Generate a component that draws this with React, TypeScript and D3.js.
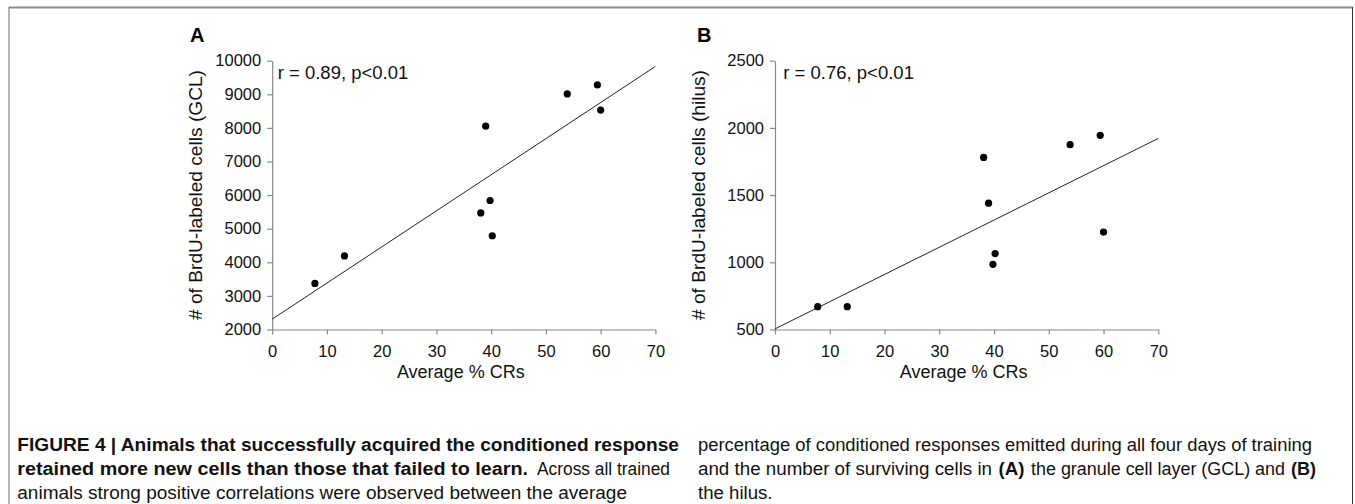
import React, { useEffect, useRef } from "react";
import * as d3 from "d3";

// ---- Data ----
const avgCRs = [7.8, 13.2, 38.1, 39.0, 39.8, 40.2, 53.9, 59.4, 60.0];
const gclCells = [3370, 4190, 5470, 8050, 5840, 4790, 9010, 9280, 8530];
const hilusCells = [670, 670, 1780, 1440, 985, 1065, 1875, 1945, 1225];

const panelLetters = ["A", "B"];
const yTitles = ["# of BrdU-labeled cells (GCL)", "# of BrdU-labeled cells (hilus)"];
const xTitle = "Average % CRs";
const statTexts = ["r = 0.89, p<0.01", "r = 0.76, p<0.01"];
const yDomains: [number, number][] = [[2000, 10000], [500, 2500]];
const yTickSteps = [1000, 500];
const xDomain: [number, number] = [0, 70];
const xTickStep = 10;

const FONT = "'Liberation Sans', Arial, Helvetica, sans-serif";

function linReg(xs: number[], ys: number[]) {
  const mx = d3.mean(xs) as number;
  const my = d3.mean(ys) as number;
  let sxy = 0, sxx = 0;
  xs.forEach((x, i) => { sxy += (x - mx) * (ys[i] - my); sxx += (x - mx) * (x - mx); });
  const slope = sxy / sxx;
  return { slope, intercept: my - slope * mx };
}

export default function App() {
  const ref = useRef<SVGSVGElement | null>(null);

  useEffect(() => {
    const svg = d3.select(ref.current);
    svg.selectAll("*").remove();

    // frame
    svg.append("line").attr("x1", 9).attr("x2", 1352.5).attr("y1", 7.5).attr("y2", 7.5)
      .attr("stroke", "#8c8c8c").attr("stroke-width", 2);
    svg.append("line").attr("x1", 9).attr("x2", 9).attr("y1", 7).attr("y2", 504)
      .attr("stroke", "#6a6a6a").attr("stroke-width", 1);
    svg.append("line").attr("x1", 1352.5).attr("x2", 1352.5).attr("y1", 7).attr("y2", 504)
      .attr("stroke", "#333").attr("stroke-width", 1);

    const panels = [
      { left: 272.2, right: 655.4, ys: gclCells, letterX: 190, titleX: 202, statX: 277.7 },
      { left: 775, right: 1158.3, ys: hilusCells, letterX: 697, titleX: 705, statX: 783.3 },
    ];
    const top = 60.7, bottom = 329.5;

    panels.forEach((p, i) => {
      const x = d3.scaleLinear().domain(xDomain).range([p.left, p.right]);
      const y = d3.scaleLinear().domain(yDomains[i]).range([bottom, top]);
      const g = svg.append("g");

      const xTicks = d3.range(xDomain[0], xDomain[1] + 1e-9, xTickStep);
      const yTicks = d3.range(yDomains[i][0], yDomains[i][1] + 1e-9, yTickSteps[i]);

      const xAxis = g.append("g").attr("transform", `translate(0,${bottom})`)
        .call(d3.axisBottom(x).tickValues(xTicks).tickFormat(d3.format("d")).tickSize(5).tickSizeOuter(0).tickPadding(11));
      const yAxis = g.append("g").attr("transform", `translate(${p.left},0)`)
        .call(d3.axisLeft(y).tickValues(yTicks).tickFormat(d3.format("d")).tickSize(5).tickSizeOuter(0).tickPadding(6));
      [xAxis, yAxis].forEach((a) => {
        a.select(".domain").attr("stroke", "#8a8a8a").attr("stroke-width", 1.2);
        a.selectAll(".tick line").attr("stroke", "#8a8a8a").attr("stroke-width", 1.2);
        a.selectAll(".tick text").attr("fill", "#111").attr("font-size", 16.5).attr("font-family", FONT);
      });

      // regression line
      const { slope, intercept } = linReg(avgCRs, p.ys);
      g.append("line")
        .attr("x1", x(xDomain[0])).attr("y1", y(intercept + slope * xDomain[0]))
        .attr("x2", x(xDomain[1])).attr("y2", y(intercept + slope * xDomain[1]))
        .attr("stroke", "#222").attr("stroke-width", 1);

      // points
      g.selectAll("circle.pt").data(avgCRs).enter().append("circle")
        .attr("class", "pt")
        .attr("cx", (d) => x(d)).attr("cy", (_d, j) => y(p.ys[j])).attr("r", 3.6).attr("fill", "#000");

      // texts
      g.append("text").attr("x", p.letterX).attr("y", 41.7).text(panelLetters[i])
        .attr("font-family", FONT).attr("font-weight", "bold").attr("font-size", 20).attr("fill", "#000");
      g.append("text").attr("x", p.statX).attr("y", 78.5).text(statTexts[i])
        .attr("font-family", FONT).attr("font-size", 18.5).attr("fill", "#111");
      g.append("text").attr("transform", `translate(${p.titleX},195) rotate(-90)`)
        .attr("text-anchor", "middle").text(yTitles[i])
        .attr("font-family", FONT).attr("font-size", 19).attr("fill", "#111")
        .attr("textLength", 250).attr("lengthAdjust", "spacingAndGlyphs");
      g.append("text").attr("x", (p.left + p.right) / 2 - 3).attr("y", 378)
        .attr("text-anchor", "middle").text(xTitle)
        .attr("font-family", FONT).attr("font-size", 18).attr("fill", "#111");
    });

    // caption segments: [text, x0, x1, baseline, bold]
    const caption: [string, number, number, number, boolean][] = [
      ["FIGURE 4 | Animals that successfully acquired the conditioned response", 17.3, 679, 451, true],
      ["retained more new cells than those that failed to learn.", 17.3, 528, 475, true],
      ["Across all trained", 537, 670, 475, false],
      ["animals strong positive correlations were observed between the average", 17.3, 627, 499, false],
      ["percentage of conditioned responses emitted during all four days of training", 698, 1312, 451, false],
      ["and the number of surviving cells in", 698, 992, 475, false],
      ["(A)", 998.5, 1024.4, 475, true],
      ["the granule cell layer (GCL) and", 1031, 1285, 475, false],
      ["(B)", 1291, 1316, 475, true],
      ["the hilus.", 698, 772.5, 499, false],
    ];
    caption.forEach(([t, x0, x1, yb, b]) => {
      svg.append("text").attr("x", x0).attr("y", yb).text(t)
        .attr("font-family", "'Liberation Sans Narrow', 'Liberation Sans', Arial, sans-serif")
        .attr("font-size", 17.5).attr("font-weight", b ? "bold" : "normal").attr("fill", "#111")
        .attr("textLength", x1 - x0).attr("lengthAdjust", "spacingAndGlyphs");
    });
  }, []);

  return (
    <svg ref={ref} width={1355} height={504}
      style={{ position: "absolute", left: 0, top: 0, background: "#fff" }} />
  );
}
